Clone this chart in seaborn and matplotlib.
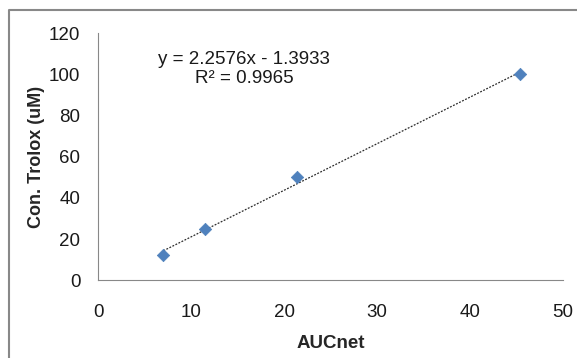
import matplotlib
matplotlib.use("Agg")
import matplotlib.pyplot as plt
from matplotlib.lines import Line2D
import numpy as np
import pandas as pd
import seaborn as sns

# Trolox calibration: net area under curve vs. concentration
auc_net = [7.0, 11.5, 21.4, 45.4]
trolox_um = [12.5, 25.0, 50.0, 100.0]

# Linear trendline reported on the chart
slope = 2.2576
intercept = -1.3933
r_squared = 0.9965

x_ticks = [0, 10, 20, 30, 40, 50]
y_ticks = [0, 20, 40, 60, 80, 100, 120]

sns.set_theme(style="white")
plt.rcParams["font.family"] = ["Liberation Sans", "DejaVu Sans"]

df = pd.DataFrame({"AUCnet": auc_net, "Trolox": trolox_um})

fig = plt.figure(figsize=(5.77, 3.58), dpi=100)
ax = fig.add_axes([0.1704, 0.2165, 0.8053, 0.6913])

# Trendline across the data range
xs = np.array([min(auc_net), max(auc_net)])
ax.plot(xs, slope * xs + intercept, color="#2b2b2b", lw=0.9,
        linestyle=(0, (1.5, 1.2)), zorder=2)

sns.scatterplot(data=df, x="AUCnet", y="Trolox", ax=ax, marker="D",
                s=40, color="#4F81BD", edgecolor="#4F81BD", linewidth=0.5,
                zorder=3, legend=False)

ax.set_xlim(0, 50)
ax.set_ylim(0, 120)
ax.set_xticks(x_ticks)
ax.set_yticks(y_ticks)
ax.tick_params(axis="both", length=0, labelsize=13.5, colors="#1a1a1a")
ax.tick_params(axis="x", pad=17)
ax.tick_params(axis="y", pad=13)

for side in ("top", "right"):
    ax.spines[side].set_visible(False)
for side in ("left", "bottom"):
    ax.spines[side].set_color("#888888")
    ax.spines[side].set_linewidth(0.8)

ax.set_xlabel("AUCnet", fontsize=13.5, fontweight="bold", labelpad=10)
ax.set_ylabel("Con. Trolox (uM)", fontsize=13, fontweight="bold", labelpad=3)

sign = "-" if intercept < 0 else "+"
eq = f"y = {slope:.4f}x {sign} {abs(intercept):.4f}\nR² = {r_squared:.4f}"
ax.text(15.7, 102.5, eq, ha="center", va="center", multialignment="center",
        fontsize=13.5, color="#1a1a1a", linespacing=1.1)

# Outer chart frame (left and top edges)
W, H = 577, 358
frame = Line2D([8.5 / W, 8.5 / W, 1.0], [0.0, 1 - 9.5 / H, 1 - 9.5 / H],
               transform=fig.transFigure, color="#888888", lw=1.5)
fig.add_artist(frame)

fig.savefig("out.png", dpi=100)
